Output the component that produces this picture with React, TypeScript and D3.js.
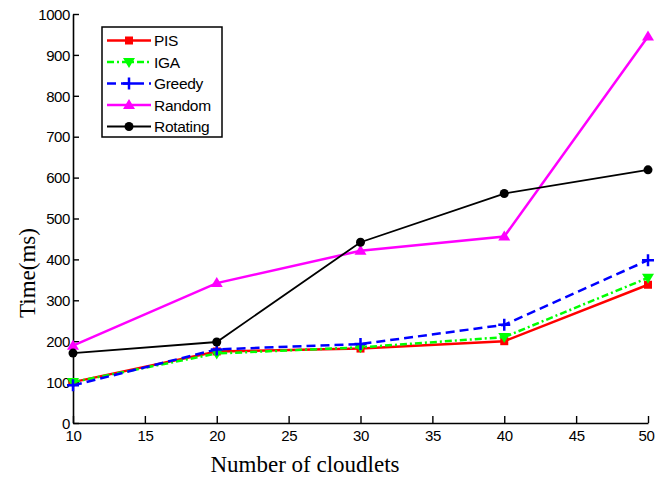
import React, { useEffect, useRef } from "react";
import * as d3 from "d3";

/* DATA */
const cloudlets = [10, 20, 30, 40, 50];
const pisTime = [100, 175, 182, 200, 338];
const igaTime = [100, 170, 185, 210, 355];
const greedyTime = [92, 180, 193, 240, 398];
const randomTime = [189, 342, 421, 456, 945];
const rotatingTime = [171, 198, 442, 561, 619];
const xTicks = [10, 15, 20, 25, 30, 35, 40, 45, 50];
const yTicks = [0, 100, 200, 300, 400, 500, 600, 700, 800, 900, 1000];

const series = [
  { name: "PIS", values: pisTime, color: "#ff0000", dash: "", marker: "square", width: 2.5 },
  { name: "IGA", values: igaTime, color: "#00ff00", dash: "7,3,2,3", marker: "down", width: 2.5 },
  { name: "Greedy", values: greedyTime, color: "#0000ff", dash: "9,5", marker: "plus", width: 2.5 },
  { name: "Random", values: randomTime, color: "#ff00ff", dash: "", marker: "up", width: 2.5 },
  { name: "Rotating", values: rotatingTime, color: "#000000", dash: "", marker: "circle", width: 1.8 },
];

const App = () => {
  const ref = useRef<SVGSVGElement>(null);

  useEffect(() => {
    const width = 656;
    const height = 479;
    const left = 73;
    const right = 648;
    const top = 14;
    const bottom = 423;
    const sans = "Liberation Sans, Arial, sans-serif";
    const serif = "Liberation Serif, Times New Roman, serif";

    const svg = d3.select(ref.current);
    svg.selectAll("*").remove();
    svg.append("rect").attr("width", width).attr("height", height).attr("fill", "white");

    const x = d3.scaleLinear().domain([10, 50]).range([left, right]);
    const y = d3.scaleLinear().domain([0, 1000]).range([bottom, top]);

    /* axes, ticks pointing inward */
    const xAxis = svg
      .append("g")
      .attr("transform", `translate(0,${bottom})`)
      .call(d3.axisBottom(x).tickValues(xTicks).tickSize(-7).tickSizeOuter(0).tickPadding(7));
    const yAxis = svg
      .append("g")
      .attr("transform", `translate(${left},0)`)
      .call(
        d3.axisLeft(y).tickValues(yTicks).tickFormat(d3.format("d")).tickSize(-6).tickSizeOuter(0).tickPadding(3)
      );

    [xAxis, yAxis].forEach((g) => {
      g.select(".domain").attr("stroke", "#000").attr("stroke-width", 1.6);
      g.selectAll(".tick line").attr("stroke", "#000").attr("stroke-width", 1.4);
      g.selectAll(".tick text")
        .attr("fill", "#000")
        .attr("font-family", sans)
        .attr("font-size", 15)
        .attr("letter-spacing", -0.4);
    });
    xAxis.selectAll(".tick text").attr("dy", "0.71em");
    yAxis.selectAll(".tick text").attr("dy", "0.35em");
    /* keep the last x label inside the picture */
    xAxis
      .selectAll(".tick text")
      .filter((d: any) => d === 50)
      .attr("dx", -2);

    /* axis titles */
    svg
      .append("text")
      .attr("x", 305)
      .attr("y", 472)
      .attr("text-anchor", "middle")
      .attr("font-family", serif)
      .attr("font-size", 23)
      .text("Number of cloudlets");
    svg
      .append("text")
      .attr("transform", `translate(35,273) rotate(-90)`)
      .attr("text-anchor", "middle")
      .attr("font-family", serif)
      .attr("font-size", 23)
      .text("Time(ms)");

    const drawMarker = (g: any, kind: string, cx: number, cy: number, color: string) => {
      if (kind === "square") {
        g.append("rect").attr("x", cx - 4).attr("y", cy - 4).attr("width", 8).attr("height", 8).attr("fill", color);
      } else if (kind === "down") {
        g.append("path").attr("d", `M${cx - 6},${cy - 4}L${cx + 6},${cy - 4}L${cx},${cy + 6}Z`).attr("fill", color);
      } else if (kind === "up") {
        g.append("path").attr("d", `M${cx - 6},${cy + 4}L${cx + 6},${cy + 4}L${cx},${cy - 6}Z`).attr("fill", color);
      } else if (kind === "plus") {
        g.append("path")
          .attr("d", `M${cx - 6},${cy}L${cx + 6},${cy}M${cx},${cy - 6}L${cx},${cy + 6}`)
          .attr("stroke", color)
          .attr("stroke-width", 2.5);
      } else {
        g.append("circle").attr("cx", cx).attr("cy", cy).attr("r", 4.5).attr("fill", color);
      }
    };

    const line = d3
      .line<number>()
      .x((d, i) => x(cloudlets[i]))
      .y((d) => y(d));

    series.forEach((s) => {
      const g = svg.append("g");
      g.append("path")
        .datum(s.values)
        .attr("d", line)
        .attr("fill", "none")
        .attr("stroke", s.color)
        .attr("stroke-width", s.width)
        .attr("stroke-dasharray", s.dash || null);
      s.values.forEach((v, i) => drawMarker(g, s.marker, x(cloudlets[i]), y(v), s.color));
    });

    /* legend */
    const legend = svg.append("g");
    legend
      .append("rect")
      .attr("x", 102)
      .attr("y", 27)
      .attr("width", 120)
      .attr("height", 110)
      .attr("fill", "white")
      .attr("stroke", "#000")
      .attr("stroke-width", 1.5);
    series.forEach((s, i) => {
      const ly = 40.5 + i * 21.5;
      legend
        .append("line")
        .attr("x1", 107)
        .attr("x2", 151)
        .attr("y1", ly)
        .attr("y2", ly)
        .attr("stroke", s.color)
        .attr("stroke-width", s.width)
        .attr("stroke-dasharray", s.dash || null);
      drawMarker(legend, s.marker, 129, ly, s.color);
      legend
        .append("text")
        .attr("x", 154)
        .attr("y", ly)
        .attr("dy", "0.36em")
        .attr("font-family", sans)
        .attr("font-size", 15.5)
        .attr("letter-spacing", -0.3)
        .text(s.name);
    });
  }, []);

  return (
    <svg
      ref={ref}
      width={656}
      height={479}
      style={{ position: "absolute", left: 0, top: 0, display: "block" }}
    />
  );
};

export default App;
